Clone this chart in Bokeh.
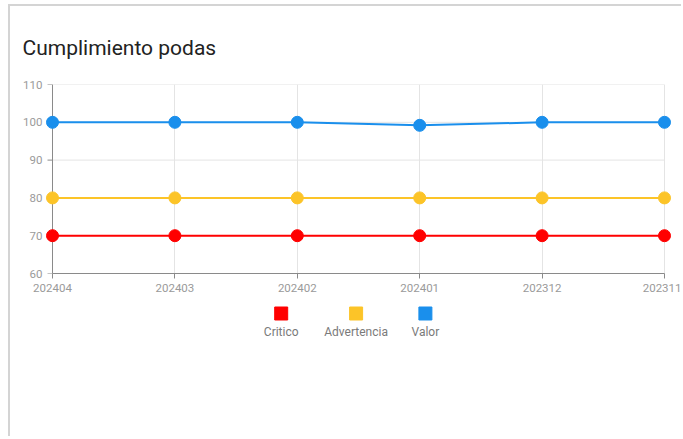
from bokeh.plotting import figure
from bokeh.models import Range1d, FixedTicker, ColumnDataSource
from bokeh.layouts import column
from bokeh.core.properties import value
from bokeh.embed import file_html
from bokeh.resources import INLINE

# ---- data ----
periods = ["202404", "202403", "202402", "202401", "202312", "202311"]
critico = [70, 70, 70, 70, 70, 70]
advertencia = [80, 80, 80, 80, 80, 80]
valor = [100, 100, 100, 99.2, 100, 100]
series_names = ["Critico", "Advertencia", "Valor"]
series_colors = ["#ff0000", "#fcc428", "#1a8fec"]
y_ticks = [60, 70, 80, 90, 100, 110]

FONT = "Roboto"
AXIS_COL = "#8a8a8a"
GRID_COL = "#e4e4e4"
LABEL_COL = "#9a9a9a"

# ---- layout constants (pixels, canvas coordinates) ----
W = 673
AX_LEFT, AX_RIGHT = 42, 654      # x of first / last category
AX_TOP, AX_BOTTOM = 78, 267      # y of max / min tick
PAD = 8                          # room so end markers are not clipped
H1 = AX_BOTTOM + 30
H2 = 432 - H1
MB_LEFT = AX_LEFT - PAD
MB_RIGHT = W - (AX_RIGHT + PAD)
frame_w = W - MB_LEFT - MB_RIGHT

n = len(periods)
xs = list(range(n))
ppx = (AX_RIGHT - AX_LEFT) / (n - 1)
ymin, ymax = min(y_ticks), max(y_ticks)
x_range = Range1d(-PAD / ppx, (n - 1) + PAD / ppx)
y_range = Range1d(ymin, ymax)

p = figure(width=W, height=H1, output_backend="svg", toolbar_location=None,
           x_range=x_range, y_range=y_range,
           min_border_left=MB_LEFT, min_border_right=MB_RIGHT,
           min_border_top=AX_TOP, min_border_bottom=H1 - AX_BOTTOM,
           title="Cumplimiento podas")
p.styles = {"border-top": "2px solid #d4d4d4", "border-left": "2px solid #d4d4d4"}
p.outline_line_color = None
p.background_fill_color = "white"
p.border_fill_color = "white"

p.title.text_font = FONT
p.title.text_font_size = "21px"
p.title.text_font_style = "normal"
p.title.text_color = "#222222"
p.title.align = "left"
p.title.offset = 22 - (MB_LEFT + 10)
p.title.standoff = 50

# grid lines limited to the data area
p.xgrid.ticker = FixedTicker(ticks=xs)
p.xgrid.grid_line_color = GRID_COL
p.ygrid.visible = False
p.segment(x0=[0] * len(y_ticks), y0=y_ticks, x1=[n - 1] * len(y_ticks), y1=y_ticks,
          line_color=GRID_COL, line_width=1)

# y axis line and ticks at the first category
tick_len = 5 / ppx
p.segment(x0=[0], y0=[ymin], x1=[0], y1=[ymax], line_color=AXIS_COL, line_width=1)
p.segment(x0=[-tick_len] * len(y_ticks), y0=y_ticks, x1=[0] * len(y_ticks), y1=y_ticks,
          line_color=AXIS_COL, line_width=1)

for ser, col in zip([critico, advertencia, valor], series_colors):
    src = ColumnDataSource(dict(x=xs, y=ser))
    p.line("x", "y", source=src, line_color=col, line_width=2)
    p.scatter("x", "y", source=src, size=12, fill_color=col, line_color=col)

xax = p.xaxis[0]
yax = p.yaxis[0]
xax.ticker = FixedTicker(ticks=xs)
xax.major_label_overrides = {i: lab for i, lab in zip(xs, periods)}
xax.bounds = (0, n - 1)
xax.axis_line_color = AXIS_COL
xax.major_tick_line_color = AXIS_COL
xax.major_tick_out = 5
xax.major_label_standoff = 5
yax.ticker = FixedTicker(ticks=y_ticks)
yax.axis_line_color = None
yax.major_tick_line_color = None
yax.major_tick_out = 0
yax.major_label_standoff = 2
for ax in (xax, yax):
    ax.major_tick_in = 0
    ax.minor_tick_line_color = None
    ax.major_label_text_font = FONT
    ax.major_label_text_font_size = "11.5px"
    ax.major_label_text_color = LABEL_COL

# ---- legend figure: squares above labels ----
leg = figure(width=W, height=H2, output_backend="svg", toolbar_location=None,
             x_range=Range1d(0, frame_w), y_range=Range1d(H2, 0),
             min_border_left=MB_LEFT, min_border_right=MB_RIGHT,
             min_border_top=0, min_border_bottom=0)
leg.axis.visible = False
leg.grid.visible = False
leg.outline_line_color = None
leg.styles = {"border-left": "2px solid #d4d4d4"}

char_w = 5.6
gap = 24.5
widths = [len(s) * char_w for s in series_names]
total = sum(widths) + gap * (len(series_names) - 1)
group_center = frame_w / 2 - 8
cur = group_center - total / 2
centers = []
for w in widths:
    centers.append(cur + w / 2)
    cur += w + gap
sq_y, lab_y = 12, 30
leg.scatter(x=centers, y=[sq_y] * len(centers), marker="square", size=13,
            fill_color=series_colors, line_color=series_colors)
leg.text(x=centers, y=[lab_y] * len(centers), text=series_names,
         text_font=value(FONT), text_font_size="12px", text_color="#7a7a7a",
         text_align="center", text_baseline="middle")

layout = column(p, leg, spacing=0)
layout.margin = (4, 0, 0, 8)
open("out.html", "w").write(file_html(layout, INLINE))
